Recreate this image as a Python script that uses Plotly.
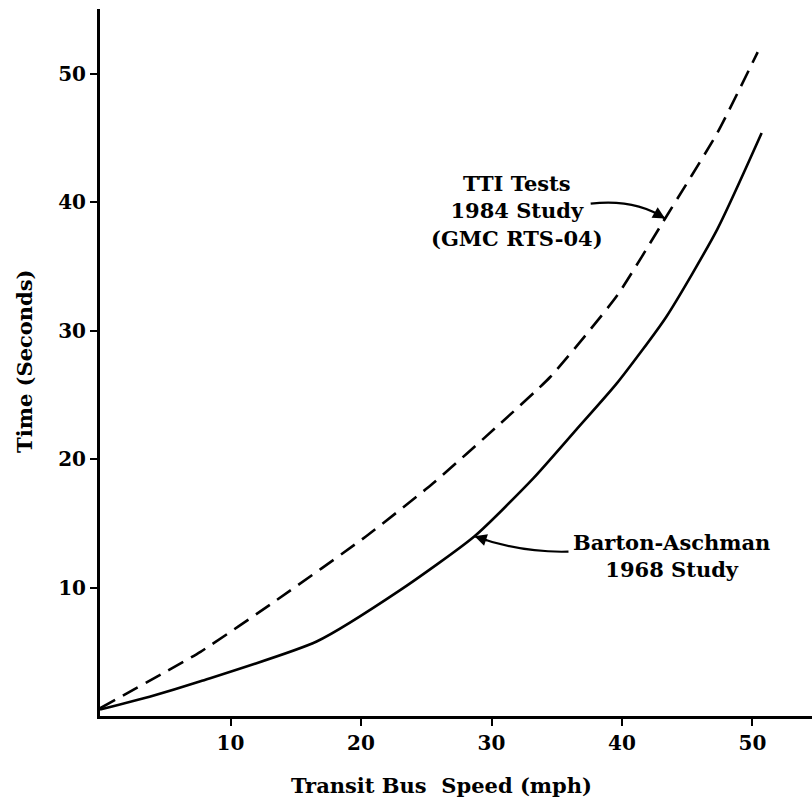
import numpy as np
import plotly.graph_objects as go

# --- data ---
speed_tti = [0, 7.7, 13.5, 20.4, 25.5, 30.7, 34.5, 39.6, 43.4, 47.3, 50.4]
time_tti = [0.6, 5.0, 9.0, 14.0, 18.1, 22.8, 26.4, 32.7, 38.9, 45.4, 51.7]

speed_ba = [0, 3.8, 7.7, 16.6, 23.0, 28.7, 33.2, 36.5, 39.6, 43.4, 47.3, 50.7]
time_ba = [0.5, 1.5, 2.7, 5.8, 9.8, 14.0, 18.5, 22.3, 25.9, 31.1, 37.9, 45.4]

tick_vals = [10, 20, 30, 40, 50]
tick_text = ["10", "20", "30", "40", "50"]

label_tti = "TTI Tests<br>1984 Study<br>(GMC RTS-04)"
label_ba = "Barton-Aschman<br>1968 Study"
x_title = "Transit Bus&nbsp;&nbsp;Speed (mph)"
y_title = "Time (Seconds)"

FONT = "DejaVu Serif"

fig = go.Figure()
fig.add_trace(go.Scatter(
    x=speed_tti, y=time_tti, mode="lines",
    line=dict(color="black", width=2.6, dash="17px,9px", shape="spline", smoothing=0.5),
    showlegend=False, hoverinfo="skip"))
fig.add_trace(go.Scatter(
    x=speed_ba, y=time_ba, mode="lines",
    line=dict(color="black", width=2.6, shape="spline", smoothing=0.6),
    showlegend=False, hoverinfo="skip"))

# arrow heads on curves (positions taken from the data)
head_tti_x = 43.3
head_tti_y = float(np.interp(head_tti_x, speed_tti, time_tti))
head_ba_x = 28.7
head_ba_y = float(np.interp(head_ba_x, speed_ba, time_ba))

# curved arrow bodies
tail_tti = (37.6, 39.9)
ctrl_tti = (41.0, 40.3)
tail_ba = (35.9, 12.8)
ctrl_ba = (32.2, 12.7)

for tail, ctrl, hx, hy in [(tail_tti, ctrl_tti, head_tti_x, head_tti_y),
                           (tail_ba, ctrl_ba, head_ba_x, head_ba_y)]:
    fig.add_shape(type="path",
                  path=f"M {tail[0]},{tail[1]} Q {ctrl[0]},{ctrl[1]} {hx},{hy}",
                  line=dict(color="black", width=2.2), xref="x", yref="y")
    t = 0.85
    bx = (1 - t) ** 2 * tail[0] + 2 * (1 - t) * t * ctrl[0] + t ** 2 * hx
    by = (1 - t) ** 2 * tail[1] + 2 * (1 - t) * t * ctrl[1] + t ** 2 * hy
    fig.add_annotation(x=hx, y=hy, ax=bx, ay=by, axref="x", ayref="y",
                       xref="x", yref="y", text="", showarrow=True,
                       arrowhead=2, arrowsize=1.1, arrowwidth=2.2,
                       arrowcolor="black", standoff=0)

fig.add_annotation(x=31.95, y=39.3, xref="x", yref="y", text=label_tti,
                   showarrow=False, align="center",
                   font=dict(family=FONT, size=21, color="black", weight="bold"))
fig.add_annotation(x=43.8, y=12.46, xref="x", yref="y", text=label_ba,
                   showarrow=False, align="center",
                   font=dict(family=FONT, size=21, color="black", weight="bold"))

fig.add_annotation(x=0.479, y=-0.0976, xref="paper", yref="paper", text=x_title,
                   showarrow=False, xanchor="center", yanchor="middle",
                   font=dict(family=FONT, size=21, color="black", weight="bold"))
fig.add_annotation(x=-0.107, y=0.502, xref="paper", yref="paper", text=y_title,
                   showarrow=False, textangle=-90, xanchor="center", yanchor="middle",
                   font=dict(family=FONT, size=21, color="black", weight="bold"))

axis_common = dict(showline=True, linewidth=3, linecolor="black", mirror=False,
                   showgrid=False, zeroline=False, ticks="outside", ticklen=7,
                   tickwidth=2, tickcolor="black", tickvals=tick_vals, ticktext=tick_text,
                   tickfont=dict(family=FONT, size=20, color="black", weight="bold"))

fig.update_layout(
    width=812, height=808,
    margin=dict(l=100, r=0, t=9, b=92),
    paper_bgcolor="white", plot_bgcolor="white",
    xaxis=dict(range=[0, 54.56], **axis_common),
    yaxis=dict(range=[0, 55.06], **axis_common),
)

fig.write_html("out.html")
